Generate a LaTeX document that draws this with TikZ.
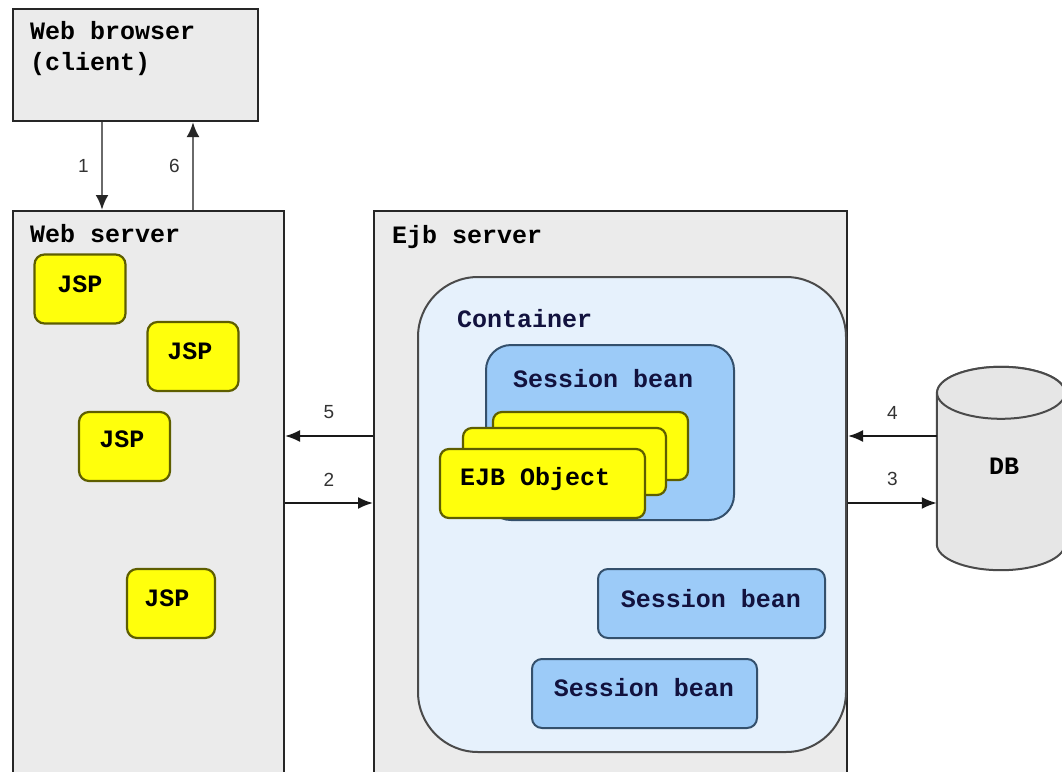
\documentclass[tikz,border=0pt]{standalone}
\usepackage{fontspec}
\setmonofont{Liberation Mono}
\newfontfamily\numfont{Liberation Sans}
\usetikzlibrary{arrows.meta}

\definecolor{boxgray}{HTML}{EBEBEB}
\definecolor{edge}{HTML}{262626}
\definecolor{contfill}{HTML}{E6F1FC}
\definecolor{contedge}{HTML}{4A4A4A}
\definecolor{beanfill}{HTML}{9CCBF8}
\definecolor{beanedge}{HTML}{34506C}
\definecolor{navy}{HTML}{12123E}
\definecolor{jspfill}{HTML}{FFFF0C}
\definecolor{jspedge}{HTML}{5E5E00}
\definecolor{dbfill}{HTML}{E6E6E6}
\definecolor{linkgray}{HTML}{6A6A6A}

\begin{document}
\begin{tikzpicture}[x=1pt,y=-1pt,
  title/.style={font=\ttfamily\bfseries\fontsize{25}{30}\selectfont, anchor=base west, inner sep=0pt},
  server/.style={draw=edge, line width=2pt, fill=boxgray, inner sep=0pt},
  container/.style={draw=contedge, line width=2pt, fill=contfill, rounded corners=60pt, inner sep=0pt},
  bean/.style={draw=beanedge, line width=2pt, fill=beanfill, inner sep=0pt,
    font=\ttfamily\bfseries\fontsize{25}{30}\selectfont, text=navy},
  jsp/.style={draw=jspedge, line width=2.2pt, fill=jspfill, rounded corners=10pt, inner sep=0pt,
    minimum width=91pt, minimum height=69pt},
  ejb/.style={draw=jspedge, line width=2.2pt, fill=jspfill, rounded corners=9pt, inner sep=0pt},
  num/.style={font=\numfont\fontsize{19}{22}\selectfont, text=black!80, inner sep=0pt},
  link/.style={draw=black!90, line width=2pt, -{Latex[length=15pt,width=12pt]}},
  uplink/.style={draw=linkgray, line width=2.8pt, -{Latex[length=15pt,width=13pt,color=black!85]}}
]
\clip (0,0) rectangle (1062,771);
\fill[white] (0,0) rectangle (1062,771);

% client and the two servers
\node[server, minimum width=245pt, minimum height=112pt] (browser) at (135.5,65) {};
\node[title] (browsertxt) at (30,39) {Web browser};
\node[title] (clienttxt) at (30,70) {(client)};

\node[server, minimum width=271pt, minimum height=579pt] (web) at (148.5,500.5) {};
\node[title] (webtxt) at (30,242) {Web server};

\node[server, minimum width=473pt, minimum height=579pt] (ejbsrv) at (610.5,500.5) {};
\node[title] (ejbtxt) at (392,243) {Ejb server};

% JSP pages inside the web server
\node[jsp] (jsp1) at (80,289) {};
\node[title, anchor=base] (jsp1txt) at (80,292) {JSP};
\node[jsp] (jsp2) at (193,356.5) {};
\node[title, anchor=base] (jsp2txt) at (190,359) {JSP};
\node[jsp] (jsp3) at (124.5,446.5) {};
\node[title, anchor=base] (jsp3txt) at (122,447) {JSP};
\node[jsp, minimum width=88pt] (jsp4) at (171,603.5) {};
\node[title, anchor=base] (jsp4txt) at (167,606) {JSP};

% EJB container
\node[container, minimum width=428pt, minimum height=475pt] (cont) at (632,514.5) {};
\node[title, text=navy] (conttxt) at (457,327) {Container};

\node[bean, rounded corners=25pt, minimum width=248pt, minimum height=175pt] (bean1) at (610,432.5) {};
\node[title, text=navy] (bean1txt) at (513,387) {Session bean};

% stacked EJB objects
\node[ejb, minimum width=195pt, minimum height=68pt] (obj3) at (590.5,446) {};
\node[ejb, minimum width=203pt, minimum height=67pt] (obj2) at (564.5,461.5) {};
\node[ejb, minimum width=205pt, minimum height=69pt] (obj1) at (542.5,483.5) {};
\node[title] (obj1txt) at (460,485) {EJB Object};

\node[bean, rounded corners=10pt, minimum width=227pt, minimum height=69pt] (bean2) at (711.5,603.5) {};
\node[title, text=navy, anchor=base] (bean2txt) at (711,607) {Session bean};
\node[bean, rounded corners=10pt, minimum width=225pt, minimum height=69pt] (bean3) at (644.5,693.5) {};
\node[title, text=navy, anchor=base] (bean3txt) at (644,696) {Session bean};

% database cylinder
\node[inner sep=0pt, minimum width=128pt, minimum height=151pt] (db) at (1001,468.5) {};
\path[draw=contedge, line width=2pt, fill=dbfill]
  (db.north west) -- (db.south west)
  arc[start angle=180, end angle=360, x radius=64pt, y radius=26pt]
  -- (db.north east)
  arc[start angle=0, end angle=180, x radius=64pt, y radius=26pt] -- cycle;
\path[draw=contedge, line width=2pt, fill=dbfill] (db.north) ellipse[x radius=64pt, y radius=26pt];
\node[font=\ttfamily\bfseries\fontsize{25}{30}\selectfont, anchor=base, inner sep=0pt] (dbtxt) at (1004,474) {DB};

% request / response flow
\draw[uplink] (browser.south -| 102,0) -- node[num, left=12pt] (n1) {1} (web.north -| 102,0);
\draw[uplink] (web.north -| 193,0) -- node[num, left=12pt] (n6) {6} (browser.south -| 193,0);

\draw[link] (web.east |- 0,503) -- node[num, above=16pt] (n2) {2} (ejbsrv.west |- 0,503);
\draw[link] (ejbsrv.west |- 0,436) -- node[num, above=16pt] (n5) {5} (web.east |- 0,436);

\draw[link] (ejbsrv.east |- 0,503) -- node[num, above=16pt] (n3) {3} (db.west |- 0,503);
\draw[link] (db.west |- 0,436) -- node[num, above=16pt] (n4) {4} (ejbsrv.east |- 0,436);
\end{tikzpicture}
\end{document}
